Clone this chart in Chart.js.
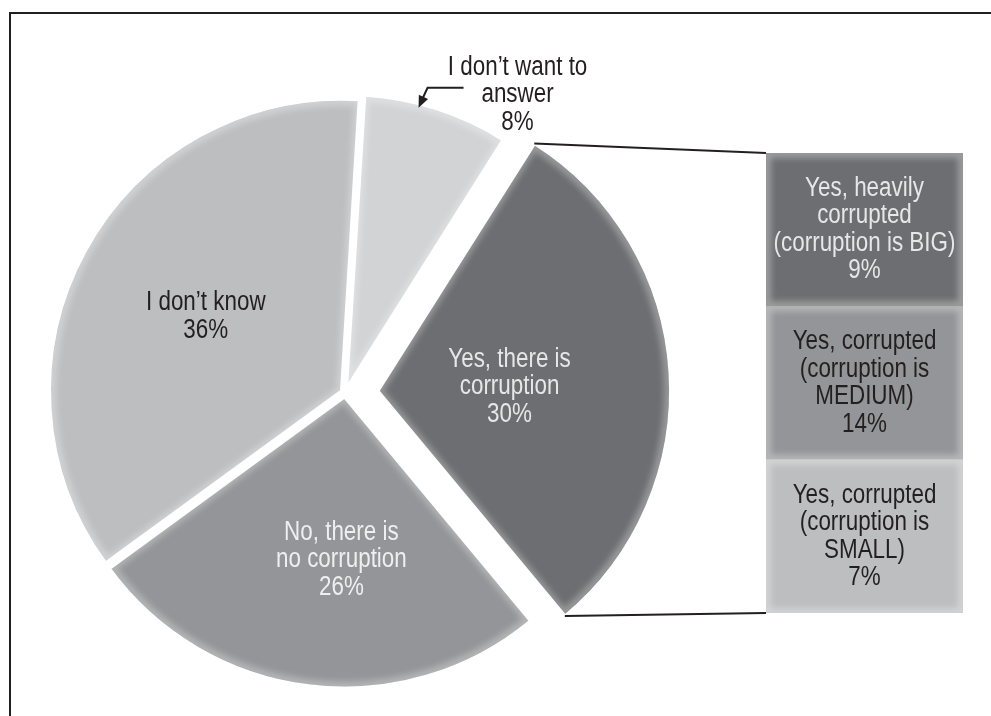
<!DOCTYPE html>
<html>
<head>
<meta charset="utf-8">
<script src="https://cdn.jsdelivr.net/npm/chart.js@4"></script>
<style>
html, body { margin: 0; padding: 0; background: #fff; }
#wrap { position: relative; width: 991px; height: 716px; overflow: hidden; }
#frame { position: absolute; left: 9px; top: 12px; width: 1200px; height: 900px;
         border-left: 2px solid #231f20; border-top: 2px solid #231f20; }
canvas { position: absolute; left: 0; top: 0; }
</style>
</head>
<body>
<div id="wrap">
  <div id="frame"></div>
  <canvas id="pie" width="991" height="716"></canvas>
  <canvas id="box" width="991" height="716"></canvas>
</div>
<script>
// main question
const mainLabels = [['I don’t want to', 'answer'], ['Yes, there is', 'corruption'], ['No, there is', 'no corruption'], ['I don’t know']];
const mainValues = [8, 30, 26, 36];
// breakdown of the "yes" answers
const subLabels = [['Yes, heavily', 'corrupted', '(corruption is BIG)'], ['Yes, corrupted', '(corruption is', 'MEDIUM)'], ['Yes, corrupted', '(corruption is', 'SMALL)']];
const subValues = [9, 14, 7];

const mainColors = ['#d1d3d4', '#6d6e71', '#939598', '#bcbec0'];
const mainText = [null, '#e6e7e8', '#eeeff0', '#231f20'];
const subColors = ['#6d6e71', '#939598', '#bcbec0'];
const subText = ['#e6e7e8', '#231f20', '#231f20'];
// label place inside a slice: [fraction of radius, angle shift in degrees]
const labelPlace = [null, [0.45, 2], [0.56, -6], [0.53, 0]];

// condensed look: regular sans squeezed horizontally
const FONT = '27px "Liberation Sans", Arimo, Arial, sans-serif';
const SQUEEZE = 0.83;
const LINE = 27.5;

function drawLines(ctx, lines, x, y, color) {
  ctx.save();
  ctx.font = FONT;
  ctx.fillStyle = color;
  ctx.textAlign = 'center';
  ctx.textBaseline = 'middle';
  ctx.translate(x, y);
  ctx.scale(SQUEEZE, 1);
  const top = -(lines.length - 1) * LINE / 2;
  lines.forEach((t, i) => ctx.fillText(t, 0, top + i * LINE));
  ctx.restore();
}

// soft light rim along the inside of a shape
function innerGlow(ctx, makePath, color, width, blur) {
  ctx.save();
  makePath();
  ctx.clip();
  ctx.filter = 'blur(' + blur + 'px)';
  ctx.strokeStyle = color;
  ctx.lineWidth = width;
  makePath();
  ctx.stroke();
  ctx.restore();
}

// where an arc really sits once its offset is applied (same maths as Chart.js ArcElement.draw)
function arcGeom(arc) {
  const p = arc.getProps(['x', 'y', 'startAngle', 'endAngle', 'outerRadius', 'circumference']);
  const off = (arc.options.offset || 0) / 4;
  const mid = (p.startAngle + p.endAngle) / 2;
  const fix = 1 - Math.sin(Math.min(Math.PI, p.circumference || 0));
  return {
    cx: p.x + Math.cos(mid) * off,
    cy: p.y + Math.sin(mid) * off,
    r: p.outerRadius + off * fix,
    start: p.startAngle, end: p.endAngle, mid
  };
}

const boxText = {
  id: 'boxText',
  afterDatasetsDraw(chart) {
    const ctx = chart.ctx;
    chart.getDatasetMeta(0).data.forEach((bar, i) => {
      const left = bar.base, top = bar.y - bar.height / 2;
      const w = bar.x - bar.base, h = bar.height;
      innerGlow(ctx, () => { ctx.beginPath(); ctx.rect(left, top, w, h); }, 'rgba(255,255,255,0.32)', 10, 3);
      drawLines(ctx, subLabels[i].concat(subValues[i] + '%'), left + w / 2, bar.y, subText[i]);
    });
  }
};

const boxChart = new Chart(document.getElementById('box'), {
  type: 'bar',
  data: {
    labels: subLabels.map(l => l.join(' ')),
    datasets: [{
      data: subValues.map(() => [0, 1]),
      backgroundColor: subColors,
      borderWidth: 0,
      barPercentage: 1,
      categoryPercentage: 1
    }]
  },
  options: {
    indexAxis: 'y',
    responsive: false,
    animation: false,
    events: [],
    layout: { padding: { left: 766, right: 28, top: 153, bottom: 103 } },
    scales: {
      x: { display: false, min: 0, max: 1 },
      y: { display: false }
    },
    plugins: { legend: { display: false }, tooltip: { enabled: false } }
  },
  plugins: [boxText]
});

const pieText = {
  id: 'pieText',
  afterDatasetsDraw(chart) {
    const ctx = chart.ctx;
    const arcs = chart.getDatasetMeta(0).data;

    arcs.forEach(arc => {
      const g = arcGeom(arc);
      innerGlow(ctx, () => {
        ctx.beginPath();
        ctx.moveTo(g.cx, g.cy);
        ctx.arc(g.cx, g.cy, g.r - 1.5, g.start, g.end);
        ctx.closePath();
      }, 'rgba(255,255,255,0.3)', 10, 3);
    });

    arcs.forEach((arc, i) => {
      const g = arcGeom(arc);
      const lines = mainLabels[i].concat(mainValues[i] + '%');
      if (!labelPlace[i]) {
        // outside label with an arrow pointing at the slice edge
        const a0 = g.mid - 3.5 * Math.PI / 180;
        const tx = g.cx + Math.cos(a0) * (g.r - 4);
        const ty = g.cy + Math.sin(a0) * (g.r - 4);
        ctx.save();
        ctx.strokeStyle = '#231f20';
        ctx.fillStyle = '#231f20';
        ctx.lineWidth = 2;
        ctx.beginPath();
        ctx.moveTo(tx + 45, ty - 20);
        ctx.lineTo(tx + 9, ty - 20);
        ctx.lineTo(tx + 3, ty - 7);
        ctx.stroke();
        const dir = Math.atan2(20, -9); // pointing down-left
        ctx.beginPath();
        ctx.moveTo(tx, ty);
        ctx.lineTo(tx - Math.cos(dir - 0.4) * 13, ty - Math.sin(dir - 0.4) * 13);
        ctx.lineTo(tx - Math.cos(dir + 0.4) * 13, ty - Math.sin(dir + 0.4) * 13);
        ctx.closePath();
        ctx.fill();
        ctx.restore();
        drawLines(ctx, lines, tx + 99, ty - 13, '#231f20');
        return;
      }
      const [f, shift] = labelPlace[i];
      const a = g.mid + shift * Math.PI / 180;
      drawLines(ctx, lines, g.cx + Math.cos(a) * g.r * f, g.cy + Math.sin(a) * g.r * f, mainText[i]);
    });

    // connectors from the exploded slice to the breakdown column
    const yes = arcGeom(arcs[1]);
    const bars = boxChart.getDatasetMeta(0).data;
    const first = bars[0], last = bars[bars.length - 1];
    ctx.save();
    ctx.strokeStyle = '#231f20';
    ctx.lineWidth = 2;
    ctx.beginPath();
    ctx.moveTo(yes.cx + Math.cos(yes.start) * yes.r, yes.cy + Math.sin(yes.start) * yes.r);
    ctx.lineTo(first.base, first.y - first.height / 2);
    ctx.moveTo(yes.cx + Math.cos(yes.end) * yes.r, yes.cy + Math.sin(yes.end) * yes.r);
    ctx.lineTo(last.base, last.y + last.height / 2);
    ctx.stroke();
    ctx.restore();
  }
};

const pieChart = new Chart(document.getElementById('pie'), {
  type: 'pie',
  data: {
    labels: mainLabels.map(l => l.join(' ')),
    datasets: [{
      data: mainValues,
      backgroundColor: mainColors,
      borderColor: '#ffffff',
      borderWidth: 3,
      offset: [20, 132, 16, 16]
    }]
  },
  options: {
    responsive: false,
    animation: false,
    events: [],
    rotation: 3.5,
    radius: 291,
    layout: { padding: { left: 55, right: 356, top: 103, bottom: 33 } },
    plugins: { legend: { display: false }, tooltip: { enabled: false } }
  },
  plugins: [pieText]
});
</script>
</body>
</html>
